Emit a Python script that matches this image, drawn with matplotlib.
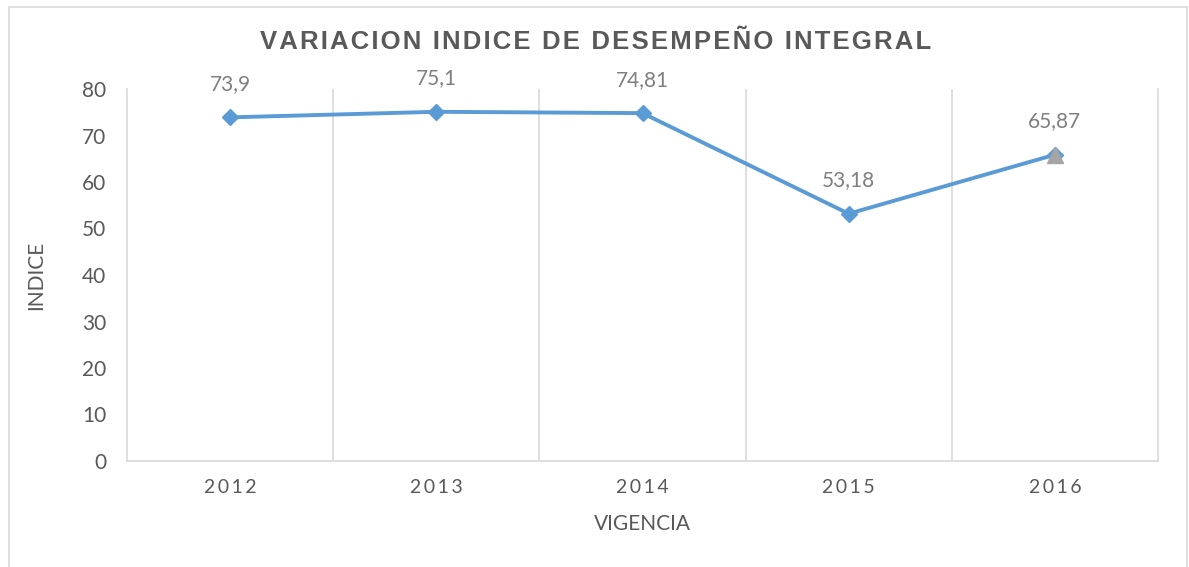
import matplotlib
matplotlib.use("Agg")
import matplotlib.pyplot as plt
import numpy as np
from matplotlib.patches import Rectangle

# --- data ---
years = ["2012", "2013", "2014", "2015", "2016"]
indice = [73.9, 75.1, 74.81, 53.18, 65.87]
labels = ["73,9", "75,1", "74,81", "53,18", "65,87"]

title = "VARIACION INDICE DE DESEMPEÑO INTEGRAL"
THIN = "\u2009"
HAIR = "\u200a"

def spaced(s, sep=THIN):
	return sep.join(list(s))

plt.rcParams['font.family'] = ['Lato', 'DejaVu Sans']

fig = plt.figure(figsize=(11.89, 5.67), dpi=100)
ax = fig.add_axes([127/1189, 1 - 461/567, (1158 - 127)/1189, (461 - 89)/567])

# outer chart frame
fig.patches.append(Rectangle((9/1189, -0.05), (1187 - 9)/1189, 1.05 - 7/567,
	transform=fig.transFigure, fill=False, edgecolor="#d9d9d9", linewidth=1.2))

x = np.arange(len(years))
ax.plot(x, indice, color="#5B9BD5", linewidth=2.8, marker="D", markersize=8,
	markerfacecolor="#5B9BD5", markeredgecolor="#5B9BD5", zorder=3)
# last point highlighted as gray triangle
ax.plot(x[-1], indice[-1], marker="^", markersize=11, color="#A5A5A5", zorder=4)

for xi, yi, lab in zip(x, indice, labels):
	ax.annotate(lab, (xi, yi), xytext=(0, 24), textcoords="offset points",
		ha="center", va="center", fontsize=15, color="#7f7f7f")

ax.set_xlim(-0.5, len(years) - 0.5)
ax.set_ylim(0, 80)
ax.set_yticks(np.arange(0, 81, 10))
ax.set_xticks(x)
ax.set_xticklabels([spaced(y) for y in years])

# vertical gridlines between categories
for b in np.arange(0.5, len(years) - 0.5, 1):
	ax.axvline(b, color="#d9d9d9", linewidth=1.2, zorder=1)

ax.spines["top"].set_visible(False)
for s in ["left", "right", "bottom"]:
	ax.spines[s].set_color("#d9d9d9")
	ax.spines[s].set_linewidth(1.2)

ax.tick_params(axis="y", length=0, labelsize=15, labelcolor="#595959", pad=15)
ax.tick_params(axis="x", length=0, labelsize=14, labelcolor="#595959", pad=13)

ax.set_xlabel("VIGENCIA", fontsize=15, color="#595959", labelpad=13)
ax.set_ylabel("INDICE", fontsize=15, color="#595959", labelpad=26)

fig.text(596/1189, 1 - 42/567, spaced(title, HAIR), ha="center", va="center",
	fontsize=18.5, fontweight="bold", color="#595959",
	family=["Liberation Sans", "DejaVu Sans"])

fig.savefig("out.png", dpi=100)
